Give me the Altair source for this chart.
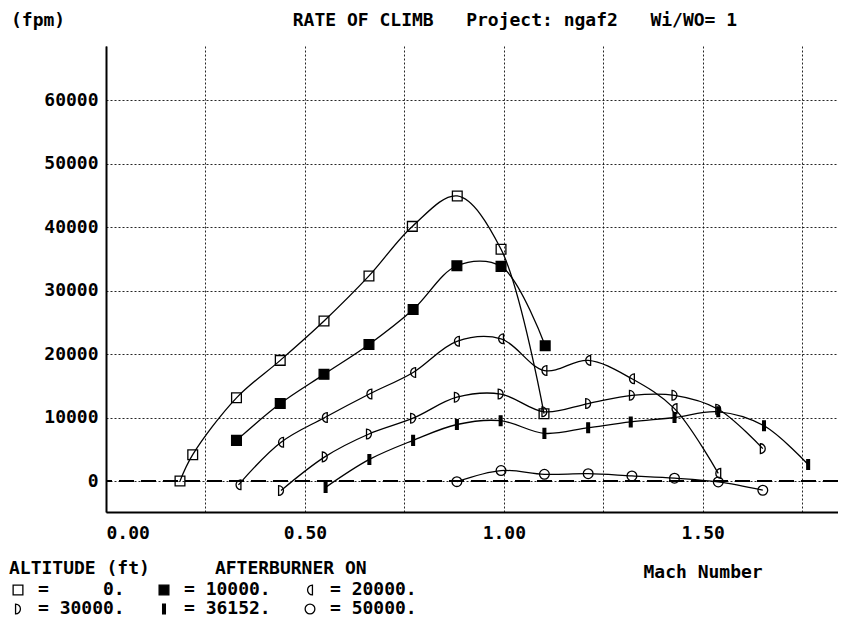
import altair as alt
import pandas as pd

# ---------------- data ----------------
altitudes = ["0", "10000", "20000", "30000", "36152", "50000"]

mach_0 = [0.186, 0.218, 0.328, 0.438, 0.548, 0.661, 0.770, 0.883, 0.993, 1.101]
roc_0 = [0, 4150, 13100, 19000, 25200, 32300, 40100, 44900, 36500, 10600]

mach_10k = [0.328, 0.438, 0.548, 0.661, 0.772, 0.882, 0.993, 1.104]
roc_10k = [6400, 12200, 16800, 21500, 27000, 33900, 33800, 21300]

mach_20k = [0.333, 0.440, 0.550, 0.662, 0.772, 0.882, 0.993, 1.102, 1.212, 1.322, 1.429, 1.539]
roc_20k = [-600, 6100, 10000, 13700, 17100, 22000, 22400, 17400, 19000, 16100, 11400, 1200]

mach_30k = [0.440, 0.550, 0.661, 0.772, 0.882, 0.992, 1.102, 1.212, 1.322, 1.429, 1.539, 1.651]
roc_30k = [-1500, 3800, 7400, 9900, 13200, 13700, 10900, 12200, 13500, 13500, 11300, 5100]

mach_36k = [0.552, 0.662, 0.772, 0.882, 0.992, 1.102, 1.212, 1.319, 1.429, 1.539, 1.654, 1.765]
roc_36k = [-1000, 3400, 6400, 8900, 9500, 7500, 8400, 9300, 10000, 10900, 8700, 2600]

mach_50k = [0.882, 0.993, 1.102, 1.212, 1.322, 1.429, 1.539, 1.651]
roc_50k = [-100, 1650, 1050, 1150, 800, 450, -150, -1450]

x_grid = [0.0, 0.25, 0.5, 0.75, 1.0, 1.25, 1.5, 1.75]
y_grid = [0, 5000, 10000, 15000, 20000, 25000, 30000, 35000, 40000,
          45000, 50000, 55000, 60000, 65000]

series = [
    ("0", mach_0, roc_0),
    ("10000", mach_10k, roc_10k),
    ("20000", mach_20k, roc_20k),
    ("30000", mach_30k, roc_30k),
    ("36152", mach_36k, roc_36k),
    ("50000", mach_50k, roc_50k),
]
rows = []
for name, ms, rs in series:
    for i, (m, r) in enumerate(zip(ms, rs)):
        rows.append({"alt": name, "mach": m, "roc": r, "i": i})
df = pd.DataFrame(rows)

# ---------------- style ----------------
FONT = "DejaVu Sans Mono"
NB = "\u00a0"

LEFT_HALF = "M0.5,-1 A1,1 0 0 0 0.5,1 Z"
RIGHT_HALF = "M-0.5,-1 A1,1 0 0 1 -0.5,1 Z"
BAR = "M-0.28,-1 L0.28,-1 L0.28,1 L-0.28,1 Z"

shape_range = ["square", "square", LEFT_HALF, RIGHT_HALF, BAR, "circle"]
fill_range = ["transparent", "black", "transparent", "transparent", "black", "transparent"]
size_range = [95, 95, 150, 150, 170, 115]

label_expr = ("datum.label == '0' ? '=" + NB * 5 + "0.' : '=" + NB + "' + datum.label + '.'")

x_enc = alt.X(
    "mach:Q",
    scale=alt.Scale(domain=[0, 1.84], nice=False, zero=False),
    axis=alt.Axis(
        values=x_grid,
        labelExpr="datum.value == 0 || datum.value == 0.5 || datum.value == 1 || datum.value == 1.5 ? format(datum.value, '.2f') : ''",
        title="Mach Number",
        titleX=537, titleY=60, titleAlign="left", titleBaseline="middle",
        titleAnchor="start",
        labelPadding=12,
        ticks=False,
    ),
)
y_enc = alt.Y(
    "roc:Q",
    scale=alt.Scale(domain=[-4880, 68510], nice=False, zero=False),
    axis=alt.Axis(
        values=y_grid,
        labelExpr="datum.value % 10000 == 0 && datum.value <= 60000 ? format(datum.value, 'd') : ''",
        title=None,
        labelPadding=8,
        ticks=False,
    ),
)

base = alt.Chart(df)

lines = base.mark_line(interpolate="catmull-rom", color="black", strokeWidth=1.3).encode(
    x=x_enc, y=y_enc, detail="alt:N", order="i:Q"
)

zero_rule = alt.Chart(df).mark_rule(color="black", strokeWidth=2, strokeDash=[15, 7]).encode(
    y=alt.datum(0)
)

points = base.mark_point(filled=False, stroke="black", strokeWidth=1.3, opacity=1).encode(
    x="mach:Q",
    y="roc:Q",
    shape=alt.Shape(
        "alt:N",
        scale=alt.Scale(domain=altitudes, range=shape_range),
        legend=alt.Legend(
            orient="none", legendX=-97, legendY=514, columns=3, direction="horizontal",
            title="ALTITUDE (ft)" + NB * 6 + "AFTERBURNER ON",
            titleFont=FONT, titleFontSize=18, titleFontWeight="bold", titleColor="black",
            titleAnchor="start", titlePadding=3, titleLimit=0,
            labelExpr=label_expr, labelFont=FONT, labelFontSize=18, labelFontWeight="bold",
            labelColor="black", labelOffset=11, labelLimit=0,
            columnPadding=30, rowPadding=1, padding=0,
            symbolStrokeColor="black", symbolStrokeWidth=1.3, symbolOpacity=1,
        ),
    ),
    fill=alt.Fill("alt:N", scale=alt.Scale(domain=altitudes, range=fill_range)),
    size=alt.Size("alt:N", scale=alt.Scale(domain=altitudes, range=size_range)),
)

chart = (
    alt.layer(lines, zero_rule, points)
    .properties(
        width=732,
        height=466,
        padding={"left": 98, "top": 38, "right": 0, "bottom": 107},
        autosize=alt.AutoSizeParams(type="none"),
        title=alt.TitleParams(
            "(fpm)" + NB * 21 + "RATE OF CLIMB" + NB * 3 + "Project:" + NB + "ngaf2"
            + NB * 3 + "Wi/WO=" + NB + "1",
            anchor="start", frame="group", dx=-95, offset=16, font=FONT, fontSize=18,
            fontWeight="bold", color="black",
        ),
    )
    .configure_view(stroke=None)
    .configure_axis(
        labelFont=FONT, labelFontSize=18, labelFontWeight="bold", labelColor="black",
        titleFont=FONT, titleFontSize=18, titleFontWeight="bold", titleColor="black",
        domainColor="black", domainWidth=2,
        gridColor="black", gridDash=[2, 2], gridWidth=1, gridOpacity=0.85,
    )
)

chart.save("out.html", embed_options={"renderer": "svg", "actions": False})
